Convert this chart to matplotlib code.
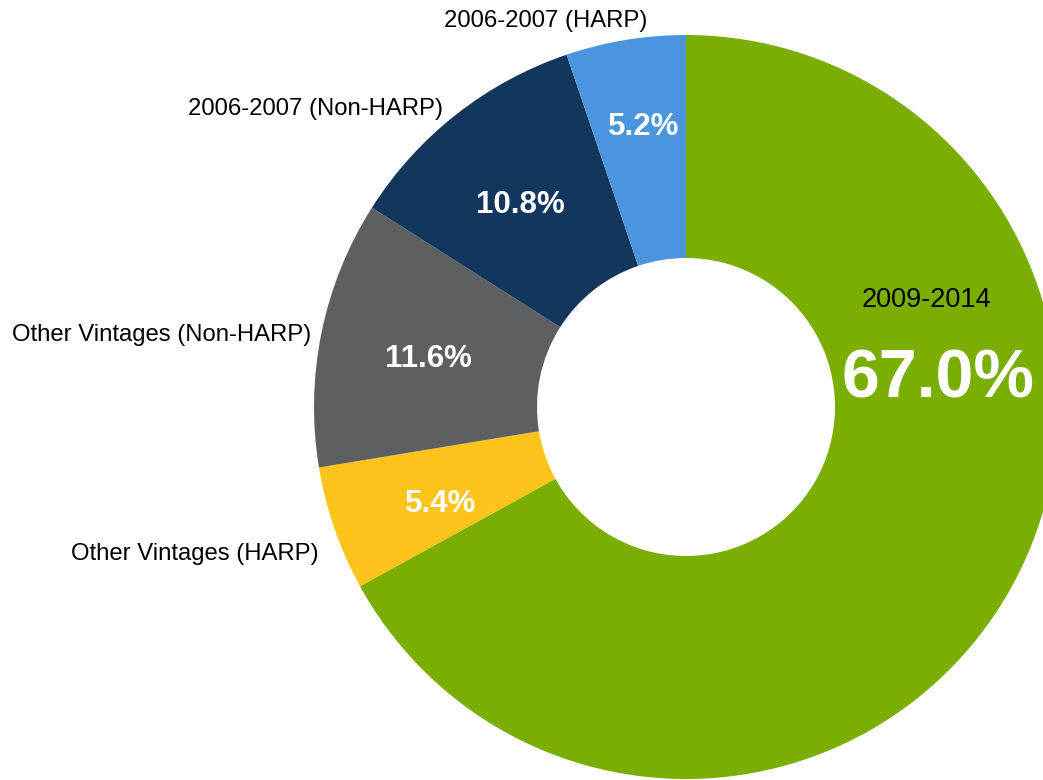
import numpy as np
import matplotlib
matplotlib.use("Agg")
import matplotlib.pyplot as plt

plt.rcParams['font.family'] = ['Liberation Sans', 'DejaVu Sans']

# datos del grafico (sentido horario desde arriba)
categorias = ['2009-2014', 'Other Vintages (HARP)', 'Other Vintages (Non-HARP)',
              '2006-2007 (Non-HARP)', '2006-2007 (HARP)']
porcentajes = [67.0, 5.4, 11.6, 10.8, 5.2]
colores = ['#7AAE03', '#FFC41C', '#5E5F61', '#13365D', '#4A95DE']

# ajustes de posicion de etiquetas (radio relativo, desplazamiento angular)
dist_etiqueta = [None, 1.06, 1.027, 1.04, 1.05]
giro_etiqueta = [None, 2.4, 0.3, 0.8, -3.7]
dist_pct = [None, 0.705, 0.705, 0.71, 0.772]
giro_pct = [None, 1.7, 0.3, 0.8, -0.8]

fig = plt.figure(figsize=(10.43, 7.8), dpi=100)
ax = fig.add_axes([0, 0, 1, 1])

cx, cy = 686, -407
radio = 372
ancho = 223

wedges, textos = ax.pie(porcentajes, colors=colores,
                        startangle=90, counterclock=False,
                        center=(cx, cy), radius=radio,
                        wedgeprops=dict(width=ancho, linewidth=0))
ax.set_xlim(0, 1043)
ax.set_ylim(-780, 0)
ax.set_aspect('equal')
ax.axis('off')

for i in range(1, len(wedges)):
    w = wedges[i]
    medio = (w.theta1 + w.theta2) / 2
    # nombre de la categoria fuera del anillo
    ang = np.deg2rad(medio + giro_etiqueta[i])
    r = dist_etiqueta[i] * radio
    ax.text(cx + r * np.cos(ang), cy + r * np.sin(ang), categorias[i],
            ha='right', va='center_baseline', color='black', fontsize=17.2)
    # porcentaje dentro de la rebanada
    ang = np.deg2rad(medio + giro_pct[i])
    r = dist_pct[i] * radio
    ax.text(cx + r * np.cos(ang), cy + r * np.sin(ang), f'{porcentajes[i]:.1f}%',
            ha='center', va='center_baseline', color='white', fontsize=22.5,
            fontweight='bold')

# etiqueta grande de 2009-2014
ax.text(cx + 0.647 * radio, cy + 0.296 * radio, categorias[0],
        ha='center', va='center_baseline', color='black', fontsize=19.5)
ax.text(cx + 0.678 * radio, cy + 0.094 * radio, f'{porcentajes[0]:.1f}%',
        ha='center', va='center_baseline', color='white', fontsize=49,
        fontweight='bold')

plt.savefig('out.png', dpi=100)
